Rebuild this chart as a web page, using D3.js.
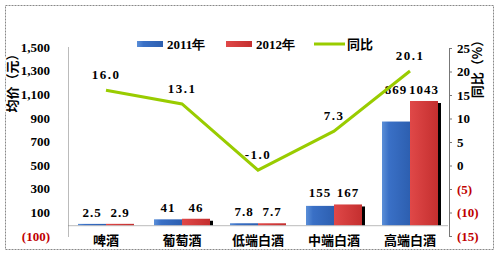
<!DOCTYPE html>
<html>
<head>
<meta charset="utf-8">
<script src="https://cdn.jsdelivr.net/npm/d3@7"></script>
<style>
  body { margin: 0; background: #fff; }
  #chart { width: 500px; height: 256px; }
  text { font-weight: bold; }
</style>
</head>
<body>
<div id="chart"></div>
<script>
// data
const categories = ['啤酒', '葡萄酒', '低端白酒', '中端白酒', '高端白酒'];
const price2011 = [2.5, 41, 7.8, 155, 869];
const price2012 = [2.9, 46, 7.7, 167, 1043];
const yoy = [16.0, 13.1, -1.0, 7.3, 20.1];
const leftTicks = [-100, 100, 300, 500, 700, 900, 1100, 1300, 1500];
const rightTicks = [-15, -10, -5, 0, 5, 10, 15, 20, 25];
const seriesNames = ['2011年', '2012年', '同比'];

const W = 500, H = 256;
const numFont = "'Liberation Serif', 'Times New Roman', serif";
const cjkFont = "'Noto Sans CJK SC', 'Liberation Serif', sans-serif";

const svg = d3.select('#chart').append('svg')
  .attr('width', W).attr('height', H);

const defs = svg.append('defs');
const gBlue = defs.append('linearGradient').attr('id', 'blue-grad');
gBlue.append('stop').attr('offset', '0%').attr('stop-color', '#5b8fd8');
gBlue.append('stop').attr('offset', '25%').attr('stop-color', '#3a70c6');
gBlue.append('stop').attr('offset', '100%').attr('stop-color', '#2d5fb0');
const gRed = defs.append('linearGradient').attr('id', 'red-grad');
gRed.append('stop').attr('offset', '0%').attr('stop-color', '#e04848');
gRed.append('stop').attr('offset', '100%').attr('stop-color', '#c42f2f');

// outer border
svg.append('rect')
  .attr('x', 5.5).attr('y', 5.5).attr('width', 488).attr('height', 244)
  .attr('fill', 'none').attr('stroke', '#888').attr('stroke-dasharray', '2,1');

// scales
const x = d3.scaleBand().domain(categories).range([68, 448]);
const yL = d3.scaleLinear().domain([-100, 1500]).range([236, 47]);
const yR = d3.scaleLinear().domain([-15, 25]).range([236, 48]);

const fmtL = d => d < 0 ? '(' + d3.format(',')(-d) + ')' : d3.format(',')(d);
const fmtR = d => d < 0 ? '(' + (-d) + ')' : String(d);

// left axis
const axL = svg.append('g')
  .attr('transform', 'translate(68,0)')
  .call(d3.axisLeft(yL).tickValues(leftTicks).tickSize(0).tickPadding(18).tickFormat(fmtL));
axL.select('.domain').attr('stroke', '#777').attr('stroke-dasharray', '1,1');
axL.selectAll('text')
  .attr('font-family', numFont).attr('font-size', 13).attr('font-weight', 'bold')
  .attr('fill', d => d < 0 ? '#c00000' : '#000');

// right axis
const axR = svg.append('g')
  .attr('transform', 'translate(449,0)')
  .call(d3.axisRight(yR).tickValues(rightTicks).tickSize(3).tickPadding(5).tickFormat(fmtR));
axR.select('.domain').attr('stroke', '#777');
axR.selectAll('.tick line').attr('stroke', '#777');
axR.selectAll('text')
  .attr('font-family', numFont).attr('font-size', 13).attr('font-weight', 'bold')
  .attr('fill', d => d < 0 ? '#c00000' : '#000');

// axis titles
svg.append('text')
  .attr('transform', 'translate(17,80) rotate(-90)')
  .attr('text-anchor', 'middle')
  .attr('font-family', cjkFont).attr('font-size', 13).attr('font-weight', 'bold')
  .attr('stroke', '#fff').attr('stroke-width', 3).attr('paint-order', 'stroke')
  .text('均价（元）');
svg.append('text')
  .attr('transform', 'translate(482,66) rotate(-90)')
  .attr('text-anchor', 'middle')
  .attr('font-family', cjkFont).attr('font-size', 13).attr('font-weight', 'bold')
  .text('同比（%）');

// category axis
const base = yL(0) + 1;
const axX = svg.append('g')
  .attr('transform', `translate(0,${base})`)
  .call(d3.axisBottom(x).tickSize(0).tickPadding(11));
axX.select('.domain').attr('stroke', '#777').attr('stroke-dasharray', '1,1');
axX.selectAll('text')
  .attr('font-family', cjkFont).attr('font-size', 13).attr('font-weight', 'bold').attr('fill', '#000');

// bars
const bw = 28;
const bars = svg.append('g');
categories.forEach((c, i) => {
  const cx = x(c) + x.bandwidth() / 2;
  const t11 = yL(price2011[i]), t12 = yL(price2012[i]);
  // shadow
  bars.append('rect')
    .attr('x', cx + bw).attr('y', t12 + 2)
    .attr('width', 3).attr('height', Math.max(base - t12 - 2, 0))
    .attr('fill', '#000');
  bars.append('rect')
    .attr('x', cx - bw).attr('y', t11)
    .attr('width', bw).attr('height', base - t11)
    .attr('fill', 'url(#blue-grad)');
  bars.append('rect')
    .attr('x', cx).attr('y', t12)
    .attr('width', bw).attr('height', base - t12)
    .attr('fill', 'url(#red-grad)');
  // bar labels
  const ly = Math.min(t11, t12) - 7;
  bars.append('text')
    .attr('x', cx - bw / 2).attr('y', Math.min(t11 - 7, ly + (t11 > t12 ? 0 : 0)))
    .attr('text-anchor', 'middle')
    .attr('font-family', numFont).attr('font-size', 13).attr('font-weight', 'bold')
    .attr('letter-spacing', 1)
    .text(price2011[i]);
  bars.append('text')
    .attr('x', cx + bw / 2).attr('y', t12 - 7)
    .attr('text-anchor', 'middle')
    .attr('font-family', numFont).attr('font-size', 13).attr('font-weight', 'bold')
    .attr('letter-spacing', 1)
    .text(price2012[i]);
});

// yoy line
const line = d3.line()
  .x((d, i) => x(categories[i]) + x.bandwidth() / 2)
  .y(d => yR(d));
svg.append('path')
  .datum(yoy)
  .attr('d', line)
  .attr('fill', 'none').attr('stroke', '#99cc00').attr('stroke-width', 3);
svg.append('g').selectAll('text')
  .data(yoy).join('text')
  .attr('x', (d, i) => x(categories[i]) + x.bandwidth() / 2)
  .attr('y', d => yR(d) - 11)
  .attr('text-anchor', 'middle')
  .attr('font-family', numFont).attr('font-size', 13).attr('font-weight', 'bold')
  .attr('letter-spacing', 1.5)
  .text(d => d.toFixed(1));

// legend
const lg = svg.append('g').attr('transform', 'translate(0,44)');
lg.append('rect').attr('x', 137).attr('y', -3).attr('width', 26).attr('height', 6).attr('fill', 'url(#blue-grad)');
lg.append('rect').attr('x', 226).attr('y', -3).attr('width', 26).attr('height', 6).attr('fill', 'url(#red-grad)');
lg.append('line').attr('x1', 314).attr('x2', 345).attr('y1', 0).attr('y2', 0)
  .attr('stroke', '#99cc00').attr('stroke-width', 3);
[167, 256, 347].forEach((lx, i) => {
  lg.append('text')
    .attr('x', lx).attr('y', 5)
    .attr('font-family', i < 2 ? numFont : cjkFont).attr('font-size', 13).attr('font-weight', 'bold')
    .text(seriesNames[i]);
});
</script>
</body>
</html>
